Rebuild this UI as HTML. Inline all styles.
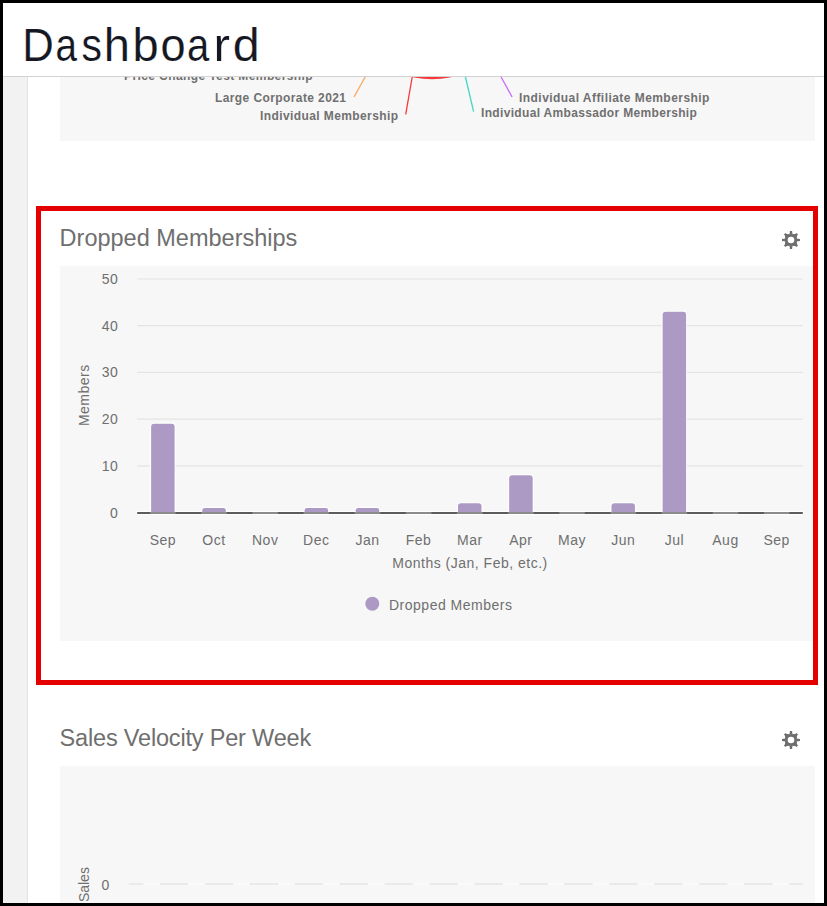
<!DOCTYPE html>
<html><head><meta charset="utf-8">
<style>
html,body{margin:0;padding:0;background:#000;width:827px;height:906px;overflow:hidden}
body{font-family:"Liberation Sans",sans-serif}
.frame{position:absolute;left:3px;top:3px;width:821px;height:900px;background:#fff;overflow:hidden}
.abs{position:absolute;white-space:nowrap}
.sidebar{position:absolute;left:0;top:0;width:24px;height:900px;background:#f2f2f2;border-right:1px solid #e4e4e4}
.panel{position:absolute;background:#f7f7f7}
.header{position:absolute;left:0;top:0;width:821px;height:73px;background:#fff;border-bottom:1px solid #d2d2d2}
.title{position:absolute;font-size:23.5px;color:#6f6f6f;line-height:1;white-space:nowrap}
.lbl{font-weight:700;font-size:12px;color:#707070;letter-spacing:0.4px;line-height:1}
.dl{top:18px;font-size:47px;color:#151722;line-height:1;-webkit-text-stroke:0.15px #fff}
svg text{font-family:"Liberation Sans",sans-serif}
</style></head>
<body>
<div class="frame">
  <div class="sidebar"></div>

  <!-- pie panel (top, scrolled) -->
  <div class="panel" style="left:57px;top:0px;width:755px;height:138px"></div>
  <svg class="abs" style="left:-3px;top:-3px" width="827" height="200">
    <circle cx="432" cy="-11.8" r="91" fill="#fa3838"/>
    <line x1="354" y1="97" x2="366" y2="75.5" stroke="#f7a85c" stroke-width="1.3"/>
    <line x1="405.7" y1="114.3" x2="412.4" y2="76" stroke="#f43a3a" stroke-width="1.3"/>
    <line x1="465" y1="75" x2="473.6" y2="111.7" stroke="#3fd9c4" stroke-width="1.3"/>
    <line x1="500" y1="75" x2="512.1" y2="97" stroke="#c86af7" stroke-width="1.3"/>
  </svg>
  <div class="abs lbl" style="left:121px;top:66.5px">Price Change Test Membership</div>
  <div class="abs lbl" style="left:212px;top:89px">Large Corporate 2021</div>
  <div class="abs lbl" style="left:257px;top:107px">Individual Membership</div>
  <div class="abs lbl" style="left:516px;top:89px;letter-spacing:0.45px">Individual Affiliate Membership</div>
  <div class="abs lbl" style="left:478px;top:104px;letter-spacing:0.33px">Individual Ambassador Membership</div>

  <!-- header -->
  <div class="header">
    <div class="abs dl" style="left:18.30px;transform:scaleX(0.93);transform-origin:18px 0">D</div>
    <div class="abs dl" style="left:50.10px;transform:scaleX(0.82);transform-origin:14px 0">a</div>
    <div class="abs dl" style="left:76.70px;transform:scaleX(0.87);transform-origin:12px 0">s</div>
    <div class="abs dl" style="left:100.80px">h</div>
    <div class="abs dl" style="left:129.40px">b</div>
    <div class="abs dl" style="left:156.85px;transform:scaleX(0.96);transform-origin:13px 0">o</div>
    <div class="abs dl" style="left:181.90px;transform:scaleX(0.85);transform-origin:14px 0">a</div>
    <div class="abs dl" style="left:211.25px;transform:scaleX(1.05);transform-origin:9px 0">r</div>
    <div class="abs dl" style="left:229.50px;transform:scaleX(1.03);transform-origin:12.5px 0">d</div>
  </div>

  <!-- Dropped Memberships -->
  <div class="title" style="left:56.6px;top:224px">Dropped Memberships</div>
    <div class="panel" style="left:57px;top:263px;width:755px;height:375px"></div>

  <!-- Sales Velocity -->
  <div class="title" style="left:56.6px;top:724px;letter-spacing:-0.18px">Sales Velocity Per Week</div>
  <div class="panel" style="left:57px;top:763px;width:755px;height:200px"></div>

<svg class="abs" style="left:-3px;top:-3px" width="827" height="906">
<line x1="137.2" y1="465.88" x2="802.8" y2="465.88" stroke="#e4e4e4" stroke-width="1.2"/>
<line x1="137.2" y1="419.16" x2="802.8" y2="419.16" stroke="#e4e4e4" stroke-width="1.2"/>
<line x1="137.2" y1="372.44" x2="802.8" y2="372.44" stroke="#e4e4e4" stroke-width="1.2"/>
<line x1="137.2" y1="325.72" x2="802.8" y2="325.72" stroke="#e4e4e4" stroke-width="1.2"/>
<line x1="137.2" y1="279.00" x2="802.8" y2="279.00" stroke="#e4e4e4" stroke-width="1.2"/>
<text x="118.3" y="517.6" text-anchor="end" font-size="14" fill="#6f6f6f" letter-spacing="0.5">0</text>
<text x="118.3" y="470.9" text-anchor="end" font-size="14" fill="#6f6f6f" letter-spacing="0.5">10</text>
<text x="118.3" y="424.2" text-anchor="end" font-size="14" fill="#6f6f6f" letter-spacing="0.5">20</text>
<text x="118.3" y="377.4" text-anchor="end" font-size="14" fill="#6f6f6f" letter-spacing="0.5">30</text>
<text x="118.3" y="330.7" text-anchor="end" font-size="14" fill="#6f6f6f" letter-spacing="0.5">40</text>
<text x="118.3" y="284.0" text-anchor="end" font-size="14" fill="#6f6f6f" letter-spacing="0.5">50</text>
<rect x="137.2" y="511" width="665.6" height="4" fill="#fff"/>
<rect x="137.2" y="512" width="665.6" height="2" fill="#5c5c5c"/>
<path d="M150.12 512.00 V426.83 Q150.12 422.83 154.12 422.83 H171.62 Q175.62 422.83 175.62 426.83 V512.00 Z" fill="#fff"/>
<path d="M151.12 512.00 V426.83 Q151.12 423.83 154.12 423.83 H171.62 Q174.62 423.83 174.62 426.83 V512.00 Z" fill="#ad9ac4"/>
<rect x="150.12" y="512" width="25.5" height="2" fill="#8b8b8b"/>
<text x="162.9" y="545" text-anchor="middle" font-size="14" fill="#6f6f6f" letter-spacing="0.5">Sep</text>
<path d="M201.28 512.00 V510.26 Q201.28 506.93 204.61 506.93 H223.44 Q226.78 506.93 226.78 510.26 V512.00 Z" fill="#fff"/>
<path d="M202.28 512.00 V510.26 Q202.28 507.93 204.61 507.93 H223.44 Q225.78 507.93 225.78 510.26 V512.00 Z" fill="#ad9ac4"/>
<rect x="201.28" y="512" width="25.5" height="2" fill="#8b8b8b"/>
<text x="214.0" y="545" text-anchor="middle" font-size="14" fill="#6f6f6f" letter-spacing="0.5">Oct</text>
<rect x="252.43" y="512" width="25.5" height="2" fill="#8b8b8b"/>
<text x="265.2" y="545" text-anchor="middle" font-size="14" fill="#6f6f6f" letter-spacing="0.5">Nov</text>
<path d="M303.58 512.00 V510.26 Q303.58 506.93 306.91 506.93 H325.74 Q329.08 506.93 329.08 510.26 V512.00 Z" fill="#fff"/>
<path d="M304.58 512.00 V510.26 Q304.58 507.93 306.91 507.93 H325.74 Q328.08 507.93 328.08 510.26 V512.00 Z" fill="#ad9ac4"/>
<rect x="303.58" y="512" width="25.5" height="2" fill="#8b8b8b"/>
<text x="316.3" y="545" text-anchor="middle" font-size="14" fill="#6f6f6f" letter-spacing="0.5">Dec</text>
<path d="M354.73 512.00 V510.26 Q354.73 506.93 358.06 506.93 H376.89 Q380.23 506.93 380.23 510.26 V512.00 Z" fill="#fff"/>
<path d="M355.73 512.00 V510.26 Q355.73 507.93 358.06 507.93 H376.89 Q379.23 507.93 379.23 510.26 V512.00 Z" fill="#ad9ac4"/>
<rect x="354.73" y="512" width="25.5" height="2" fill="#8b8b8b"/>
<text x="367.5" y="545" text-anchor="middle" font-size="14" fill="#6f6f6f" letter-spacing="0.5">Jan</text>
<rect x="405.88" y="512" width="25.5" height="2" fill="#8b8b8b"/>
<text x="418.6" y="545" text-anchor="middle" font-size="14" fill="#6f6f6f" letter-spacing="0.5">Feb</text>
<path d="M457.02 512.00 V506.26 Q457.02 502.26 461.02 502.26 H478.52 Q482.52 502.26 482.52 506.26 V512.00 Z" fill="#fff"/>
<path d="M458.02 512.00 V506.26 Q458.02 503.26 461.02 503.26 H478.52 Q481.52 503.26 481.52 506.26 V512.00 Z" fill="#ad9ac4"/>
<rect x="457.02" y="512" width="25.5" height="2" fill="#8b8b8b"/>
<text x="469.8" y="545" text-anchor="middle" font-size="14" fill="#6f6f6f" letter-spacing="0.5">Mar</text>
<path d="M508.17 512.00 V478.22 Q508.17 474.22 512.17 474.22 H529.67 Q533.67 474.22 533.67 478.22 V512.00 Z" fill="#fff"/>
<path d="M509.17 512.00 V478.22 Q509.17 475.22 512.17 475.22 H529.67 Q532.67 475.22 532.67 478.22 V512.00 Z" fill="#ad9ac4"/>
<rect x="508.17" y="512" width="25.5" height="2" fill="#8b8b8b"/>
<text x="520.9" y="545" text-anchor="middle" font-size="14" fill="#6f6f6f" letter-spacing="0.5">Apr</text>
<rect x="559.33" y="512" width="25.5" height="2" fill="#8b8b8b"/>
<text x="572.1" y="545" text-anchor="middle" font-size="14" fill="#6f6f6f" letter-spacing="0.5">May</text>
<path d="M610.48 512.00 V506.26 Q610.48 502.26 614.48 502.26 H631.98 Q635.98 502.26 635.98 506.26 V512.00 Z" fill="#fff"/>
<path d="M611.48 512.00 V506.26 Q611.48 503.26 614.48 503.26 H631.98 Q634.98 503.26 634.98 506.26 V512.00 Z" fill="#ad9ac4"/>
<rect x="610.48" y="512" width="25.5" height="2" fill="#8b8b8b"/>
<text x="623.2" y="545" text-anchor="middle" font-size="14" fill="#6f6f6f" letter-spacing="0.5">Jun</text>
<path d="M661.62 512.00 V314.70 Q661.62 310.70 665.62 310.70 H683.12 Q687.12 310.70 687.12 314.70 V512.00 Z" fill="#fff"/>
<path d="M662.62 512.00 V314.70 Q662.62 311.70 665.62 311.70 H683.12 Q686.12 311.70 686.12 314.70 V512.00 Z" fill="#ad9ac4"/>
<rect x="661.62" y="512" width="25.5" height="2" fill="#8b8b8b"/>
<text x="674.4" y="545" text-anchor="middle" font-size="14" fill="#6f6f6f" letter-spacing="0.5">Jul</text>
<rect x="712.78" y="512" width="25.5" height="2" fill="#8b8b8b"/>
<text x="725.5" y="545" text-anchor="middle" font-size="14" fill="#6f6f6f" letter-spacing="0.5">Aug</text>
<rect x="763.92" y="512" width="25.5" height="2" fill="#8b8b8b"/>
<text x="776.7" y="545" text-anchor="middle" font-size="14" fill="#6f6f6f" letter-spacing="0.5">Sep</text>
<text x="470" y="568" text-anchor="middle" font-size="14" fill="#6f6f6f" letter-spacing="0.5">Months (Jan, Feb, etc.)</text>
<text transform="translate(89,395.2) rotate(-90)" x="0" y="0" text-anchor="middle" font-size="14" fill="#6f6f6f" letter-spacing="0.5">Members</text>
<circle cx="372.3" cy="603.8" r="7" fill="#ad9ac4"/>
<text x="389" y="610" font-size="14" fill="#6f6f6f" letter-spacing="0.5">Dropped Members</text>
<g fill="#6e6e6e"><path d="M785.10 234.10 L796.90 234.10 L796.90 245.90 L785.10 245.90 Z"/><path d="M792.50 234.60 L792.10 231.00 L789.90 231.00 L789.50 234.60 Z"/><path d="M796.40 241.50 L800.00 241.10 L800.00 238.90 L796.40 238.50 Z"/><path d="M789.50 245.40 L789.90 249.00 L792.10 249.00 L792.50 245.40 Z"/><path d="M785.60 238.50 L782.00 238.90 L782.00 241.10 L785.60 241.50 Z"/><path d="M794.25 245.23 L796.59 247.00 L798.00 245.59 L796.23 243.25 Z"/><path d="M785.77 243.25 L784.00 245.59 L785.41 247.00 L787.75 245.23 Z"/><path d="M787.75 234.77 L785.41 233.00 L784.00 234.41 L785.77 236.75 Z"/><path d="M796.23 236.75 L798.00 234.41 L796.59 233.00 L794.25 234.77 Z"/></g><circle cx="791" cy="240" r="3.3" fill="#fff"/>
<g fill="#6e6e6e"><path d="M785.10 734.10 L796.90 734.10 L796.90 745.90 L785.10 745.90 Z"/><path d="M792.50 734.60 L792.10 731.00 L789.90 731.00 L789.50 734.60 Z"/><path d="M796.40 741.50 L800.00 741.10 L800.00 738.90 L796.40 738.50 Z"/><path d="M789.50 745.40 L789.90 749.00 L792.10 749.00 L792.50 745.40 Z"/><path d="M785.60 738.50 L782.00 738.90 L782.00 741.10 L785.60 741.50 Z"/><path d="M794.25 745.23 L796.59 747.00 L798.00 745.59 L796.23 743.25 Z"/><path d="M785.77 743.25 L784.00 745.59 L785.41 747.00 L787.75 745.23 Z"/><path d="M787.75 734.77 L785.41 733.00 L784.00 734.41 L785.77 736.75 Z"/><path d="M796.23 736.75 L798.00 734.41 L796.59 733.00 L794.25 734.77 Z"/></g><circle cx="791" cy="740" r="3.3" fill="#fff"/>
<line x1="128.5" y1="884" x2="802.8" y2="884" stroke="#fbfbfb" stroke-width="1.5"/>
<line x1="128.5" y1="884" x2="802.8" y2="884" stroke="#e5e5e5" stroke-width="1.5" stroke-dasharray="28.4 16.53" stroke-dashoffset="13.5"/>
<text x="105.3" y="890" text-anchor="middle" font-size="14" fill="#6f6f6f">0</text>
<text transform="translate(88.7,884.6) rotate(-90)" x="0" y="0" text-anchor="middle" font-size="14" fill="#6f6f6f">Sales</text>
</svg>
  <!-- highlight -->
  <div class="abs" style="left:33px;top:203px;width:772px;height:469px;border:5px solid #e50000"></div>
</div>
</body></html>
